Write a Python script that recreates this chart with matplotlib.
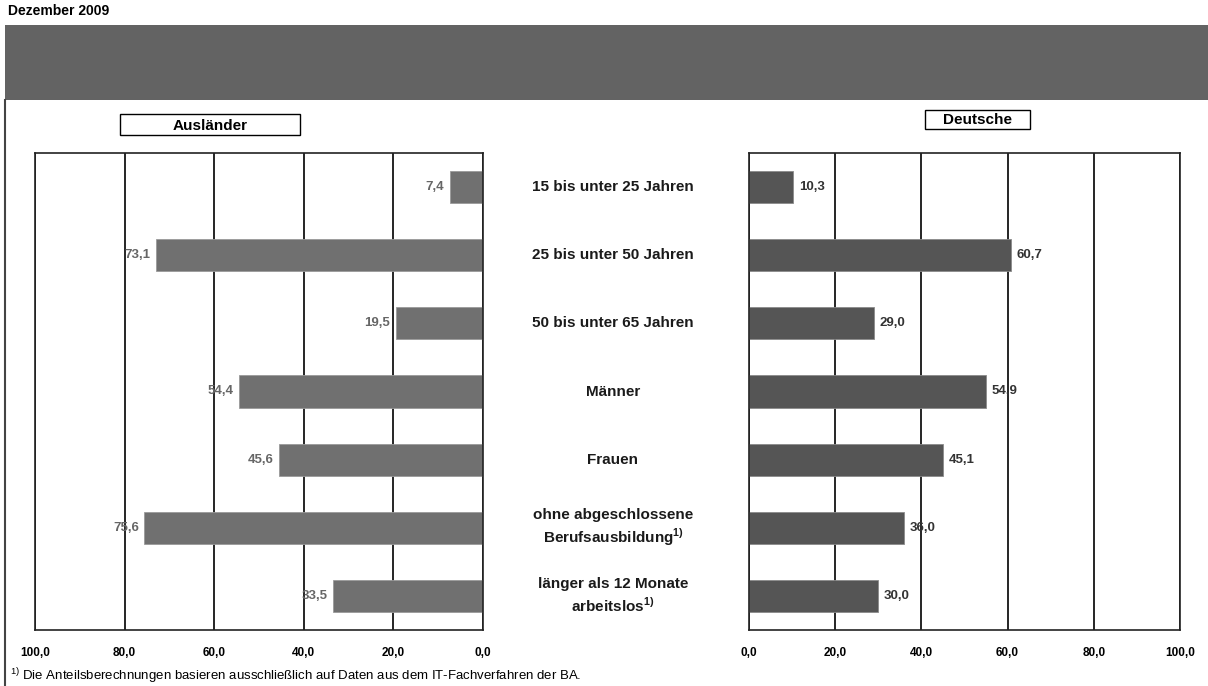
import matplotlib.pyplot as plt
from matplotlib.patches import Rectangle
from matplotlib.lines import Line2D

plt.rcParams['font.family'] = ['Liberation Sans', 'DejaVu Sans']
plt.rcParams['mathtext.fontset'] = 'custom'
plt.rcParams['mathtext.bf'] = 'Liberation Sans:bold'
plt.rcParams['mathtext.rm'] = 'Liberation Sans'

#  Data 
categories = ["15 bis unter 25 Jahren", "25 bis unter 50 Jahren", "50 bis unter 65 Jahren",
              "Männer", "Frauen",
              "ohne abgeschlossene\nBerufsausbildung$^{\\mathbf{1)}}$",
              "länger als 12 Monate\narbeitslos$^{\\mathbf{1)}}$"]
auslaender = [7.4, 73.1, 19.5, 54.4, 45.6, 75.6, 33.5]
deutsche = [10.3, 60.7, 29.0, 54.9, 45.1, 36.0, 30.0]
ticks = [0, 20, 40, 60, 80, 100]
tick_labels = ["0,0", "20,0", "40,0", "60,0", "80,0", "100,0"]

W, H = 1208, 686
fig = plt.figure(figsize=(W / 100, H / 100), dpi=100)

#  Header 
fig.text(8 / W, 1 - 11 / H, "Dezember 2009", fontsize=10, fontweight='bold', va='center', ha='left')
fig.patches.append(Rectangle((5 / W, 1 - 100 / H), 1 - 5 / W, 75 / H, transform=fig.transFigure,
                             facecolor='#636363', edgecolor='none'))
fig.lines.append(Line2D([5 / W, 5 / W], [0, 1 - 100 / H], transform=fig.transFigure,
                        color='#444444', linewidth=1.5))

#  Legend boxes 
def label_box(x0, y0, w, h, txt):
    fig.patches.append(Rectangle((x0 / W, 1 - (y0 + h) / H), w / W, h / H, transform=fig.transFigure,
                                 facecolor='white', edgecolor='black', linewidth=1))
    fig.text((x0 + w / 2) / W, 1 - (y0 + h / 2 + 1) / H, txt, fontsize=11, fontweight='bold',
             ha='center', va='center')

label_box(120, 114, 180, 21, "Ausländer")
label_box(925, 110, 105, 19, "Deutsche")

y = list(range(len(categories)))
bar_h = 0.47

def setup(ax):
    ax.set_xlim(0, 100)
    ax.set_ylim(len(categories) - 0.5, -0.5)
    ax.set_xticks(ticks)
    ax.set_xticklabels(tick_labels, fontsize=8.5, fontweight='bold')
    ax.tick_params(axis='x', length=0, pad=12)
    ax.set_yticks([])
    ax.grid(axis='x', color='black', linewidth=1.2, zorder=0)
    ax.set_axisbelow(True)
    for s in ax.spines.values():
        s.set_linewidth(1.2)
        s.set_color('#222222')

#  Left panel: Ausländer 
ax1 = fig.add_axes([35 / W, 56 / H, 448 / W, 477 / H])
setup(ax1)
ax1.invert_xaxis()
ax1.barh(y, auslaender, height=bar_h, color='#707070', edgecolor='#9a9a9a', linewidth=0.6, zorder=2)
for yi, v in zip(y, auslaender):
    ax1.annotate(f"{v:.1f}".replace('.', ','), (v, yi), xytext=(-4, 0), textcoords='offset points',
                 ha='right', va='center', fontsize=9.5, fontweight='bold', color='#666666', zorder=3)

#  Right panel: Deutsche 
ax2 = fig.add_axes([749 / W, 56 / H, 431 / W, 477 / H])
setup(ax2)
ax2.barh(y, deutsche, height=bar_h, color='#555555', edgecolor='#8a8a8a', linewidth=0.6, zorder=2)
for yi, v in zip(y, deutsche):
    ax2.annotate(f"{v:.1f}".replace('.', ','), (v, yi), xytext=(4, 0), textcoords='offset points',
                 ha='left', va='center', fontsize=9.5, fontweight='bold', color='#333333', zorder=3)

#  Category labels in the middle 
for yi, cat in zip(y, categories):
    yd = ax1.transData.transform((0, yi))[1]
    fig.text(613 / W, yd / H, cat, fontsize=11, fontweight='bold', ha='center', va='center',
             color='#1a1a1a', linespacing=1.3)

#  Footnote 
fig.text(10 / W, 1 - 676 / H, "$^{1)}$ Die Anteilsberechnungen basieren ausschließlich auf Daten aus dem IT-Fachverfahren der BA.",
         fontsize=9.5, ha='left', va='center')

fig.savefig("out.png", dpi=100)
